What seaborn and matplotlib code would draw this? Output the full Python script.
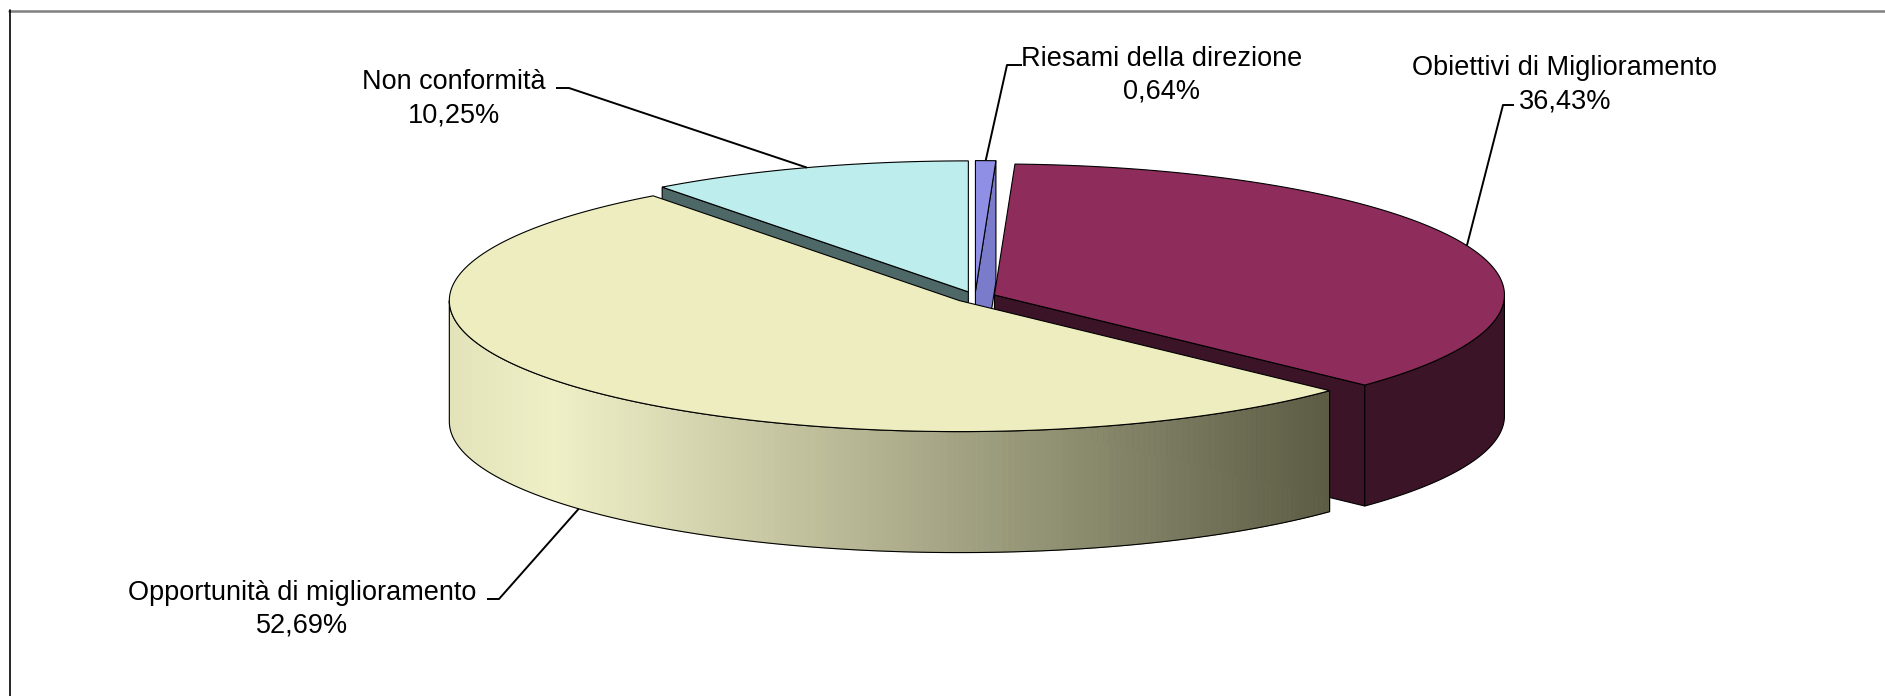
import numpy as np
import matplotlib
matplotlib.use("Agg")
import matplotlib.pyplot as plt
from matplotlib.lines import Line2D
import seaborn as sns

# Share of records by type
categories = ["Riesami della direzione", "Obiettivi di Miglioramento",
              "Opportunità di miglioramento", "Non conformità"]
values = [0.64, 36.43, 52.69, 10.25]

top_colors = ["#8f8fe6", "#8e2d5c", "#ededbf", "#bdeded"]
wall_colors = ["#7b7bcc", "#3c1428", None, "#4e6868"]

sns.set_theme(style="white")
plt.rcParams["font.family"] = ["Liberation Sans", "DejaVu Sans"]

W, H = 1885, 696
fig = plt.figure(figsize=(W / 100, H / 100), dpi=100)
ax = fig.add_axes([0, 0, 1, 1])
ax.set_xlim(0, W)
ax.set_ylim(H, 0)
ax.axis("off")

# projected pie geometry
cx, cy = 975, 297
rx, ry = 510, 131
depth = 121
explode = 21

fr = np.array(values) / np.sum(values)
starts = 360 * np.concatenate([[0], np.cumsum(fr)[:-1]])
ends = starts + 360 * fr
mids = (starts + ends) / 2


def rim(theta, ox, oy, dz=0.0):
    t = np.radians(theta)
    return ox + rx * np.sin(t), oy - ry * np.cos(t) + dz


offsets = []
for m in mids:
    t = np.radians(m)
    offsets.append((cx + explode * np.sin(t), cy - explode * (ry / rx) * np.cos(t)))


def gradient_color(x, x0, x1):
    t = np.clip((x - x0) / (x1 - x0), 0, 1)
    stops = [0.0, 0.12, 1.0]
    cols = np.array([[0.89, 0.89, 0.73], [0.94, 0.94, 0.78], [0.36, 0.36, 0.27]])
    return tuple(np.interp(t, stops, cols[:, k]) for k in range(3))


edge_kw = dict(edgecolor="black", linewidth=0.8)

# side walls, back to front
order = np.argsort(-np.cos(np.radians(mids)))
for i in order:
    s, e = starts[i], ends[i]
    ox, oy = offsets[i]
    # radial cut faces
    for ang, normal in ((s, s - 90), (e, e + 90)):
        if np.cos(np.radians(normal)) < -1e-6:
            px, py = rim(ang, ox, oy)
            poly = [(ox, oy), (px, py), (px, py + depth), (ox, oy + depth)]
            col = wall_colors[i] if wall_colors[i] else "#5c5c46"
            ax.fill(*zip(*poly), facecolor=col, zorder=2, **edge_kw)
    # outer curved wall (front half only)
    a0, a1 = max(s, 90), min(e, 270)
    if a1 > a0:
        th = np.linspace(a0, a1, 200)
        tx, ty = rim(th, ox, oy)
        xs = np.concatenate([tx, tx[::-1]])
        ys = np.concatenate([ty, (ty + depth)[::-1]])
        if wall_colors[i]:
            ax.fill(xs, ys, facecolor=wall_colors[i], zorder=3, **edge_kw)
        else:
            x0, x1 = tx.min(), tx.max()
            for k in range(len(th) - 1):
                qx = [tx[k], tx[k + 1], tx[k + 1], tx[k]]
                qy = [ty[k], ty[k + 1], ty[k + 1] + depth, ty[k] + depth]
                c = gradient_color((tx[k] + tx[k + 1]) / 2, x0, x1)
                ax.fill(qx, qy, facecolor=c, edgecolor=c, linewidth=0.6, zorder=3)
            ax.fill(xs, ys, facecolor="none", zorder=3.5, **edge_kw)

# top faces
for i in range(len(values)):
    ox, oy = offsets[i]
    th = np.linspace(starts[i], ends[i], 300)
    tx, ty = rim(th, ox, oy)
    xs = np.concatenate([[ox], tx])
    ys = np.concatenate([[oy], ty])
    ax.fill(xs, ys, facecolor=top_colors[i], zorder=5, **edge_kw)

# data labels with leader lines
label_x = [1162, 1565, 302, 454]
label_y = [66, 75, 600, 89]
line_gap = 33
hook = [(1022, 65, 1007, 65), (1514, 105, 1503, 105),
        (487, 599, 499, 599), (556, 88, 569, 88)]

for i, name in enumerate(categories):
    pct = f"{values[i]:.2f}".replace(".", ",") + "%"
    ax.text(label_x[i], label_y[i], name, ha="center", va="baseline",
            fontsize=19.5, color="black", zorder=10)
    ax.text(label_x[i], label_y[i] + line_gap, pct, ha="center", va="baseline",
            fontsize=19.5, color="black", zorder=10)
    ox, oy = offsets[i]
    dz = depth if np.cos(np.radians(mids[i])) < 0 else 0
    axx, axy = rim(mids[i], ox, oy, dz)
    hx0, hy0, hx1, hy1 = hook[i]
    ax.plot([hx0, hx1, axx], [hy0, hy1, axy], color="black", linewidth=1.4,
            zorder=9, solid_capstyle="butt")

# chart frame (top and left edges)
fig.add_artist(Line2D([9 / W, 1], [1 - 10.5 / H, 1 - 10.5 / H], color="#7f7f7f",
                      linewidth=1.8, transform=fig.transFigure))
fig.add_artist(Line2D([9.5 / W, 9.5 / W], [0, 1 - 10 / H], color="black",
                      linewidth=1.2, transform=fig.transFigure))

fig.savefig("out.png", dpi=100)
